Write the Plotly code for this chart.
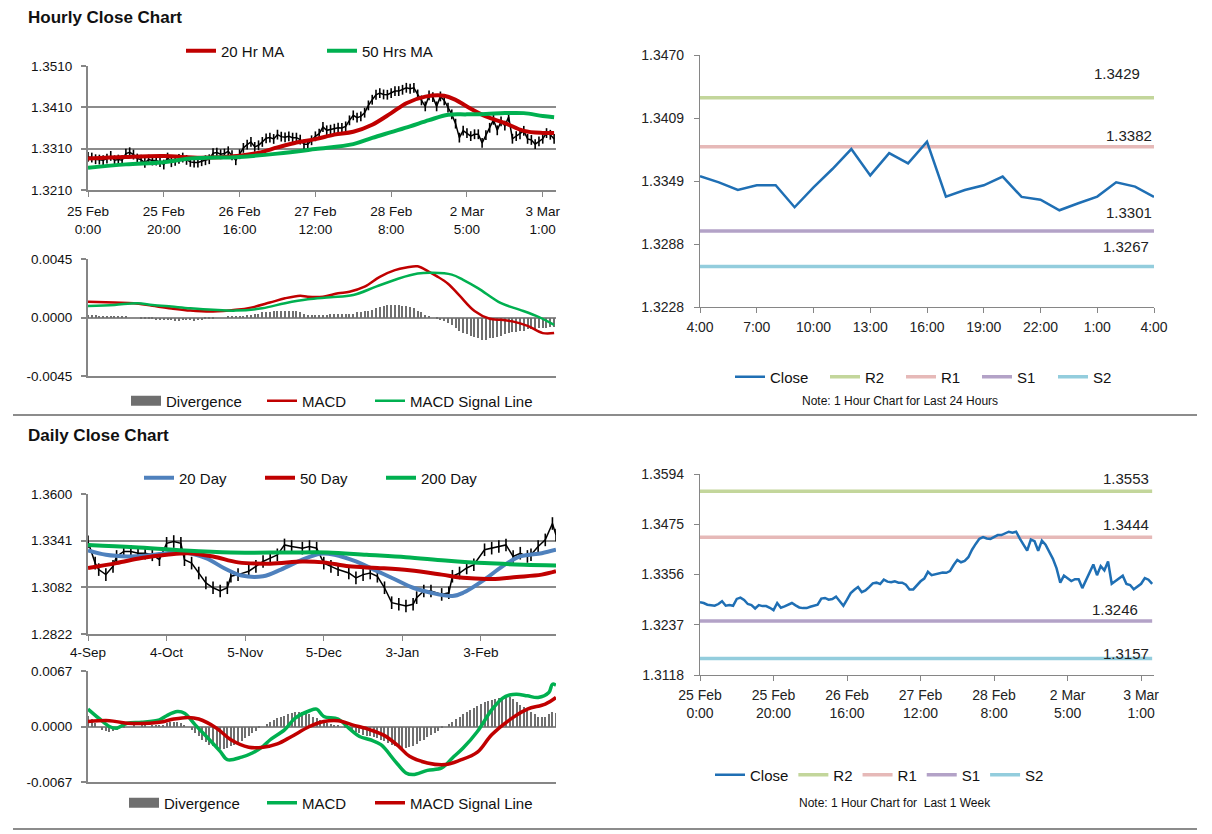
import plotly.graph_objects as go

FONT = "Liberation Sans, Arial, Helvetica, sans-serif"
W, H = 1212, 834
GRID = "#8c8c8c"
AXIS = "#868686"


def fx(p):
    return p / W


def fy(p):
    return 1 - p / H


# ---------------- data: hourly (last week) ----------------
hourly_close = [
    1.32901, 1.32885, 1.32845, 1.32836, 1.32820, 1.32861, 1.32925, 1.32820, 1.32836, 1.32820,
    1.32981, 1.33013, 1.32957, 1.32861, 1.32836, 1.32756, 1.32836, 1.32812, 1.32812, 1.32772,
    1.32716, 1.32885, 1.32772, 1.32804, 1.32853, 1.32885, 1.32828, 1.32780, 1.32764, 1.32764,
    1.32796, 1.32820, 1.32845, 1.32989, 1.33005, 1.32965, 1.32981, 1.33037, 1.32941, 1.32820,
    1.32965, 1.33118, 1.33198, 1.33263, 1.33142, 1.33182, 1.33263, 1.33351, 1.33367, 1.33335,
    1.33439, 1.33391, 1.33375, 1.33399, 1.33367, 1.33367, 1.33319, 1.33206, 1.33206, 1.33303,
    1.33399, 1.33464, 1.33624, 1.33544, 1.33560, 1.33584, 1.33608, 1.33600, 1.33640, 1.33785,
    1.33906, 1.33850, 1.33882, 1.33970, 1.34147, 1.34284, 1.34404, 1.34444, 1.34412, 1.34404,
    1.34444, 1.34493, 1.34493, 1.34525, 1.34573, 1.34549, 1.34573, 1.34412, 1.34268, 1.34123,
    1.34388, 1.34348, 1.34123, 1.34364, 1.34268, 1.34091, 1.33930, 1.33705, 1.33367,
    1.33535, 1.33477, 1.33404, 1.33449, 1.33449, 1.33238, 1.33429, 1.33605, 1.33797, 1.33544,
    1.33758, 1.33659, 1.33867, 1.33340, 1.33404, 1.33449, 1.33532, 1.33337, 1.33311, 1.33209,
    1.33276, 1.33340, 1.33477, 1.33436, 1.33337,
]
hour_index = list(range(len(hourly_close)))
hour_tick_pos = [0, 20, 40, 60, 80, 100, 120]
hour_tick_text = ["25 Feb<br>0:00", "25 Feb<br>20:00", "26 Feb<br>16:00", "27 Feb<br>12:00",
                  "28 Feb<br>8:00", "2 Mar<br>5:00", "3 Mar<br>1:00"]

ma20_x = [0, 10, 20, 30, 40, 45, 50, 55, 60, 65, 70, 75, 80, 84, 89, 94, 97, 100, 105, 110, 115, 120, 123]
ma20_y = [1.3286, 1.3290, 1.3292, 1.3288, 1.3293, 1.3300, 1.3313, 1.3325, 1.3333, 1.3344, 1.3351,
          1.3368, 1.3396, 1.3420, 1.3436, 1.3438, 1.3428, 1.3412, 1.3388, 1.3372, 1.3353, 1.3348, 1.3348]
ma50_x = [0, 10, 20, 27, 40, 50, 60, 70, 75, 80, 85, 90, 95, 100, 105, 110, 115, 120, 123]
ma50_y = [1.3264, 1.3272, 1.3277, 1.3286, 1.3290, 1.3298, 1.3309, 1.3321, 1.3336, 1.3350, 1.3364,
          1.3379, 1.3392, 1.3393, 1.3394, 1.3396, 1.3396, 1.3389, 1.3386]

hmacd_x = [0, 7, 12, 17, 22, 27, 33, 39, 43, 48, 52, 56, 58, 62, 66, 69, 73, 77, 81, 84, 87, 90,
           92, 95, 98, 102, 106, 109, 112, 116, 120, 123]
hmacd_y = [0.00122, 0.00115, 0.00110, 0.00090, 0.00070, 0.00053, 0.00046, 0.00059, 0.00076, 0.00115,
           0.00148, 0.00168, 0.00160, 0.00160, 0.00186, 0.00198, 0.00237, 0.00313, 0.00364, 0.00384,
           0.00394, 0.00351, 0.00318, 0.00260, 0.00170, 0.00050, -0.00010, -0.00018, -0.00030,
           -0.00064, -0.00120, -0.00120]
hsig_x = [0, 7, 13, 17, 22, 27, 33, 39, 46, 52, 58, 64, 70, 76, 82, 87, 91, 96, 99, 103, 109, 114, 119, 123]
hsig_y = [0.00089, 0.00097, 0.00110, 0.00097, 0.00084, 0.00071, 0.00059, 0.00053, 0.00071, 0.00110,
          0.00140, 0.00155, 0.00173, 0.00237, 0.00300, 0.00338, 0.00344, 0.00330, 0.00290, 0.00224,
          0.00110, 0.00059, 0.00003, -0.00056]
hourly_div = [
    0.0002, 0.0002, 0.0002, 0.0001, 0.0001, 0.0001, 0.0001, 0.0001, 0.0001, 0.0001, 0.0001,
    0.0000, 0.0000, 0.0000, -0.0001, -0.0001, -0.0001,
    -0.0001, -0.0002, -0.0002, -0.0002, -0.0002, -0.0002, -0.0003, -0.0003, -0.0002, -0.0002,
    -0.0002, -0.0003, -0.0002, -0.0002, -0.0001, -0.0001, -0.0001,
    0.0000, 0.0000, 0.0000, 0.0001, 0.0001, 0.0001, 0.0001, 0.0001, 0.0002,
    0.0002, 0.0003, 0.0003, 0.0004, 0.0004, 0.0004, 0.0005, 0.0005, 0.0005, 0.0005, 0.0005, 0.0005,
    0.0005, 0.0004, 0.0003,
    0.0002, 0.0002, 0.0002, 0.0002, 0.0002, 0.0002, 0.0003, 0.0003, 0.0003, 0.0003, 0.0003, 0.0003, 0.0003,
    0.0004, 0.0004, 0.0005, 0.0005, 0.0006, 0.0007, 0.0008, 0.0009,
    0.0010, 0.0010, 0.0010, 0.0010, 0.0009, 0.0009, 0.0008, 0.0007,
    0.0005, 0.0004, 0.0002, 0.0001, 0.0000,
    -0.0001, -0.0002, -0.0003, -0.0004, -0.0006, -0.0008, -0.0010, -0.0012, -0.0013, -0.0014,
    -0.0015, -0.0016, -0.0017, -0.0017, -0.0016,
    -0.0016, -0.0015, -0.0014, -0.0013, -0.0012, -0.0011, -0.0011, -0.0010, -0.0010, -0.0009,
    -0.0009, -0.0009, -0.0008, -0.0008, -0.0008, -0.0007, -0.0007,
]

# last 24 hours and pivot levels
last24_close = hourly_close[-25:]
last24_index = list(range(len(last24_close)))
last24_tick_pos = [0, 3, 6, 9, 12, 15, 18, 21, 24]
last24_tick_text = ["4:00", "7:00", "10:00", "13:00", "16:00", "19:00", "22:00", "1:00", "4:00"]
level_names = ["R2", "R1", "S1", "S2"]
day_levels = [1.3429, 1.3382, 1.3301, 1.3267]
week_levels = [1.3553, 1.3444, 1.3246, 1.3157]
day_ticks = [1.3228, 1.3288, 1.3349, 1.3409, 1.3470]
week_ticks = [1.3118, 1.3237, 1.3356, 1.3475, 1.3594]

# ---------------- data: daily ----------------
daily_x = [0, 2, 3, 5, 7, 8, 10, 12, 14, 16, 18, 20, 22, 24, 26, 27, 29, 31, 33, 35, 37, 39, 40, 42,
           45, 47, 49, 51, 53, 55, 57, 60, 62, 64, 66, 68, 70, 73, 75, 77, 79, 81, 83, 85, 87, 89,
           91, 92, 94, 96, 99, 101, 102, 104, 106, 108, 111, 113, 115, 117, 119, 121, 123, 124,
           126, 128, 130, 131]
daily_close = [1.3335, 1.3216, 1.3180, 1.3152, 1.3198, 1.3253, 1.3281, 1.3281, 1.3271, 1.3271,
               1.3262, 1.3235, 1.3326, 1.3336, 1.3326, 1.3235, 1.3216, 1.3161, 1.3106, 1.3079,
               1.3061, 1.3079, 1.3143, 1.3152, 1.3171, 1.3198, 1.3225, 1.3244, 1.3262, 1.3317,
               1.3308, 1.3299, 1.3308, 1.3299, 1.3216, 1.3198, 1.3180, 1.3161, 1.3134, 1.3152,
               1.3161, 1.3143, 1.3079, 1.2996, 1.2987, 1.2978, 1.2987, 1.3024, 1.3061, 1.3061,
               1.3042, 1.3051, 1.3143, 1.3161, 1.3189, 1.3207, 1.3290, 1.3299, 1.3308, 1.3317,
               1.3253, 1.3271, 1.3253, 1.3262, 1.3308, 1.3345, 1.3436, 1.3372]
daily_tick_pos = [0, 22, 44, 66, 88, 110]
daily_tick_text = ["4-Sep", "4-Oct", "5-Nov", "5-Dec", "3-Jan", "3-Feb"]
daily_ticks = [1.2822, 1.3082, 1.3341, 1.3600]

d20_x = [0, 5, 11, 16, 22, 27, 33, 38, 43, 49, 54, 60, 65, 69, 75, 80, 86, 91, 96, 102, 105, 111,
         116, 121, 127, 131]
d20_y = [1.3286, 1.3262, 1.3253, 1.3257, 1.3271, 1.3275, 1.3244, 1.3189, 1.3147, 1.3143, 1.3180,
         1.3235, 1.3268, 1.3262, 1.3225, 1.3180, 1.3125, 1.3079, 1.3051, 1.3033, 1.3051, 1.3125,
         1.3198, 1.3253, 1.3271, 1.3290]
d50_x = [0, 8, 15, 22, 28, 35, 42, 51, 60, 66, 73, 81, 90, 99, 105, 113, 120, 127, 131]
d50_y = [1.3189, 1.3216, 1.3244, 1.3262, 1.3271, 1.3253, 1.3220, 1.3213, 1.3225, 1.3220, 1.3198,
         1.3189, 1.3176, 1.3152, 1.3134, 1.3128, 1.3139, 1.3152, 1.3171]
d200_x = [0, 13, 27, 40, 56, 67, 78, 89, 100, 111, 122, 131]
d200_y = [1.3317, 1.3304, 1.3286, 1.3275, 1.3275, 1.3275, 1.3262, 1.3249, 1.3231, 1.3216, 1.3207, 1.3203]

dmacd_x = [0, 3, 6, 8, 11, 15, 20, 22, 25, 27, 30, 34, 37, 39, 43, 46, 49, 51, 55, 58, 62, 64, 66,
           70, 73, 76, 79, 82, 86, 89, 91, 95, 99, 102, 105, 109, 113, 116, 118, 120, 123, 126,
           129, 130, 131]
dmacd_y = [0.0021, 0.0010, 0.0000, -0.0002, 0.0004, 0.0005, 0.0008, 0.0013, 0.0018, 0.0016, 0.0002,
           -0.0016, -0.0030, -0.0040, -0.0037, -0.0032, -0.0024, -0.0016, -0.0004, 0.0010, 0.0019,
           0.0021, 0.0012, 0.0009, -0.0002, -0.0012, -0.0016, -0.0022, -0.0042, -0.0056, -0.0058,
           -0.0053, -0.0050, -0.0038, -0.0026, -0.0006, 0.0020, 0.0034, 0.0038, 0.0039, 0.0037,
           0.0035, 0.0041, 0.0051, 0.0050]
dsig_x = [0, 6, 11, 20, 24, 28, 31, 36, 40, 45, 49, 53, 57, 62, 66, 70, 74, 79, 83, 87, 90, 95,
          100, 104, 109, 113, 119, 123, 128, 131]
dsig_y = [0.0006, 0.0007, 0.0004, 0.0005, 0.0009, 0.0011, 0.0009, -0.0002, -0.0016, -0.0025,
          -0.0025, -0.0021, -0.0012, 0.0000, 0.0006, 0.0007, 0.0002, -0.0004, -0.0011, -0.0024,
          -0.0036, -0.0044, -0.0046, -0.0041, -0.0031, -0.0010, 0.0011, 0.0021, 0.0027, 0.0035]
daily_div = [
    0.0013, 0.0009, 0.0004, 0.0000, -0.0004, -0.0006, -0.0007, -0.0006, -0.0004, -0.0002,
    -0.0001, 0.0000, 0.0000, 0.0001, 0.0000, 0.0001, 0.0001, 0.0000, 0.0001, 0.0001,
    0.0002, 0.0002, 0.0004, 0.0006, 0.0006, 0.0005, 0.0004, 0.0002, 0.0000, -0.0004,
    -0.0008, -0.0012, -0.0016, -0.0019, -0.0022, -0.0024, -0.0026, -0.0027, -0.0027, -0.0026,
    -0.0024, -0.0022, -0.0020, -0.0017, -0.0014, -0.0011, -0.0008, -0.0005, -0.0002, 0.0000,
    0.0003, 0.0005, 0.0008, 0.0010, 0.0012, 0.0013, 0.0015, 0.0016, 0.0017, 0.0018,
    0.0017, 0.0016, 0.0015, 0.0012, 0.0010, 0.0008, 0.0006, 0.0004, 0.0003, 0.0002,
    0.0001, 0.0000, -0.0002, -0.0003, -0.0005, -0.0007, -0.0008, -0.0010, -0.0011, -0.0012,
    -0.0013, -0.0014, -0.0016, -0.0018, -0.0020, -0.0022, -0.0024, -0.0025, -0.0026, -0.0026,
    -0.0025, -0.0023, -0.0021, -0.0018, -0.0016, -0.0013, -0.0010, -0.0008, -0.0005, -0.0002,
    0.0000, 0.0003, 0.0006, 0.0009, 0.0012, 0.0015, 0.0018, 0.0020, 0.0022, 0.0025,
    0.0027, 0.0029, 0.0031, 0.0032, 0.0033, 0.0034, 0.0035, 0.0036, 0.0036, 0.0033,
    0.0029, 0.0026, 0.0023, 0.0020, 0.0017, 0.0015, 0.0012, 0.0011, 0.0012, 0.0015,
    0.0017, 0.0016,
]
daily_index = list(range(len(daily_div)))

# ---------------- styles ----------------
RED = "#C00000"
GREEN = "#00B050"
BLUE20 = "#4F81BD"
CLOSE_BLUE = "#1F6FB4"
LEVEL_COLORS = {"R2": "#C3D69B", "R1": "#E6B9B8", "S1": "#B3A2C7", "S2": "#93CDDD"}
DIV_GRAY = "#6f6f6f"

fig = go.Figure()

# ---- top-left: hourly price + MAs
fig.add_trace(go.Scatter(x=hour_index, y=hourly_close, mode="lines+markers", xaxis="x", yaxis="y",
                         line=dict(color="black", width=1.5),
                         marker=dict(symbol="line-ns-open", size=7, line=dict(color="black", width=1.6)),
                         showlegend=False, name="Hourly"))
fig.add_trace(go.Scatter(x=ma20_x, y=ma20_y, mode="lines", name="20 Hr MA", xaxis="x", yaxis="y",
                         line=dict(color=RED, width=4, shape="spline"), legend="legend"))
fig.add_trace(go.Scatter(x=ma50_x, y=ma50_y, mode="lines", name="50 Hrs MA", xaxis="x", yaxis="y",
                         line=dict(color=GREEN, width=4, shape="spline"), legend="legend"))

# ---- top MACD
fig.add_trace(go.Bar(x=hour_index, y=hourly_div, name="Divergence", xaxis="x2", yaxis="y2",
                     marker=dict(color=DIV_GRAY, line=dict(width=0)), width=0.3, showlegend=False))
fig.add_trace(go.Scatter(x=[None], y=[None], mode="lines", name="Divergence", xaxis="x2", yaxis="y2",
                         line=dict(color=DIV_GRAY, width=10), legend="legend2"))
fig.add_trace(go.Scatter(x=hmacd_x, y=hmacd_y, mode="lines", name="MACD", xaxis="x2", yaxis="y2",
                         line=dict(color=RED, width=2.5, shape="spline"), legend="legend3"))
fig.add_trace(go.Scatter(x=hsig_x, y=hsig_y, mode="lines", name="MACD Signal Line", xaxis="x2", yaxis="y2",
                         line=dict(color=GREEN, width=2.5, shape="spline"), legend="legend4"))

# ---- top-right: last 24 hours
for i, (nm, lv) in enumerate(zip(level_names, day_levels)):
    fig.add_trace(go.Scatter(x=last24_index, y=[lv] * len(last24_index), mode="lines", name=nm,
                             xaxis="x3", yaxis="y3", line=dict(color=LEVEL_COLORS[nm], width=3.5),
                             legend="legend6", legendrank=i + 2))
fig.add_trace(go.Scatter(x=last24_index, y=last24_close, mode="lines", name="Close", xaxis="x3", yaxis="y3",
                         line=dict(color=CLOSE_BLUE, width=2.5), legend="legend5", legendrank=1))

# ---- bottom-left: daily price + MAs
fig.add_trace(go.Scatter(x=daily_x, y=daily_close, mode="lines+markers", xaxis="x4", yaxis="y4",
                         line=dict(color="black", width=1.5),
                         marker=dict(symbol="line-ns-open", size=9, line=dict(color="black", width=1.6)),
                         showlegend=False, name="Daily"))
fig.add_trace(go.Scatter(x=d20_x, y=d20_y, mode="lines", name="20 Day", xaxis="x4", yaxis="y4",
                         line=dict(color=BLUE20, width=4, shape="spline"), legend="legend7"))
fig.add_trace(go.Scatter(x=d50_x, y=d50_y, mode="lines", name="50 Day", xaxis="x4", yaxis="y4",
                         line=dict(color=RED, width=4, shape="spline"), legend="legend7"))
fig.add_trace(go.Scatter(x=d200_x, y=d200_y, mode="lines", name="200 Day", xaxis="x4", yaxis="y4",
                         line=dict(color=GREEN, width=4, shape="spline"), legend="legend7"))

# ---- bottom MACD
fig.add_trace(go.Bar(x=daily_index, y=daily_div, name="Divergence", xaxis="x5", yaxis="y5",
                     marker=dict(color=DIV_GRAY, line=dict(width=0)), width=0.3, showlegend=False))
fig.add_trace(go.Scatter(x=[None], y=[None], mode="lines", name="Divergence", xaxis="x5", yaxis="y5",
                         line=dict(color=DIV_GRAY, width=10), legend="legend8"))
fig.add_trace(go.Scatter(x=dmacd_x, y=dmacd_y, mode="lines", name="MACD", xaxis="x5", yaxis="y5",
                         line=dict(color=GREEN, width=3.5, shape="spline"), legend="legend9"))
fig.add_trace(go.Scatter(x=dsig_x, y=dsig_y, mode="lines", name="MACD Signal Line", xaxis="x5", yaxis="y5",
                         line=dict(color=RED, width=3.5, shape="spline"), legend="legend10"))

# ---- bottom-right: last week
for i, (nm, lv) in enumerate(zip(level_names, week_levels)):
    fig.add_trace(go.Scatter(x=hour_index, y=[lv] * len(hour_index), mode="lines", name=nm,
                             xaxis="x6", yaxis="y6", line=dict(color=LEVEL_COLORS[nm], width=3.5),
                             legend="legend11", legendrank=i + 2))
fig.add_trace(go.Scatter(x=hour_index, y=hourly_close, mode="lines", name="Close", xaxis="x6", yaxis="y6",
                         line=dict(color=CLOSE_BLUE, width=2.5), legend="legend11", legendrank=1))

# ---------------- axes ----------------
tick_font_l = dict(family=FONT, size=13.5, color="#111")
tick_font_r = dict(family=FONT, size=14, color="#222")


def left_y(anchor, domain, rng, tickvals, ticktext=None):
    d = dict(anchor=anchor, domain=domain, range=rng, tickvals=tickvals, showline=True, linecolor=AXIS,
             linewidth=2, ticks="outside", ticklen=5, tickcolor=AXIS, tickwidth=1.5, showgrid=True,
             gridcolor=GRID, gridwidth=2, zeroline=False, tickfont=tick_font_l, ticklabelstandoff=6)
    if ticktext is not None:
        d["ticktext"] = ticktext
    else:
        d["tickformat"] = ".4f"
    return d


def right_y(anchor, domain, rng, tickvals):
    return dict(anchor=anchor, domain=domain, range=rng, tickvals=tickvals, tickformat=".4f", showline=True,
                linecolor=AXIS, linewidth=1.2, ticks="outside", ticklen=5, tickcolor=AXIS,
                showgrid=False, zeroline=False, tickfont=tick_font_r, ticklabelstandoff=7)


LX = [fx(88), fx(556)]
RX = [fx(700), fx(1154)]

fig.update_layout(
    xaxis=dict(domain=LX, anchor="y", range=[0, 123.5], tickvals=hour_tick_pos, ticktext=hour_tick_text,
               showline=True, linecolor=AXIS, linewidth=2, ticks="outside", ticklen=5, tickcolor=AXIS,
               showgrid=False, zeroline=False, tickfont=tick_font_l, ticklabelstandoff=3),
    yaxis=left_y("x", [fy(190), fy(66)], [1.3210, 1.3510], [1.3210, 1.3310, 1.3410, 1.3510]),
    xaxis2=dict(domain=LX, anchor="y2", range=[0, 123.5], showline=True, linecolor=AXIS, linewidth=2,
                showticklabels=False, ticks="", showgrid=False, zeroline=False),
    yaxis2=left_y("x2", [fy(376), fy(259)], [-0.0045, 0.0045], [-0.0045, 0.0, 0.0045],
                  ["-0.0045", "0.0000", "0.0045"]),
    xaxis3=dict(domain=RX, anchor="y3", range=[0, 24], tickvals=last24_tick_pos, ticktext=last24_tick_text,
                showline=True, linecolor=AXIS, linewidth=1.2, ticks="outside", ticklen=5, tickcolor=AXIS,
                showgrid=False, zeroline=False, tickfont=tick_font_r, ticklabelstandoff=2),
    yaxis3=right_y("x3", [fy(307), fy(55)], [1.3228, 1.3470], day_ticks),
    xaxis4=dict(domain=LX, anchor="y4", range=[0, 131], tickvals=daily_tick_pos, ticktext=daily_tick_text,
                showline=True, linecolor=AXIS, linewidth=2, ticks="outside", ticklen=5, tickcolor=AXIS,
                showgrid=False, zeroline=False, tickfont=tick_font_l, ticklabelstandoff=0),
    yaxis4=left_y("x4", [fy(634), fy(494)], [1.2822, 1.3600], daily_ticks),
    xaxis5=dict(domain=LX, anchor="y5", range=[0, 131], showline=True, linecolor=AXIS, linewidth=2,
                showticklabels=False, ticks="", showgrid=False, zeroline=False),
    yaxis5=left_y("x5", [fy(782), fy(671)], [-0.0067, 0.0067], [-0.0067, 0.0, 0.0067],
                  ["-0.0067", "0.0000", "0.0067"]),
    xaxis6=dict(domain=RX, anchor="y6", range=[0, 123.5], tickvals=hour_tick_pos, ticktext=hour_tick_text,
                showline=True, linecolor=AXIS, linewidth=1.2, ticks="outside", ticklen=5, tickcolor=AXIS,
                showgrid=False, zeroline=False, tickfont=dict(family=FONT, size=14, color="#222"),
                ticklabelstandoff=2),
    yaxis6=right_y("x6", [fy(675), fy(474)], [1.3118, 1.3594], week_ticks),
)

LEG_OFF = 5  # legend symbol starts this far right of the legend's left edge


def legend_at(sym_left, cy, size=15, entry=None):
    d = dict(orientation="h", x=fx(sym_left - LEG_OFF), y=fy(cy), xanchor="left", yanchor="middle",
             font=dict(family=FONT, size=size, color="#111"), bgcolor="rgba(0,0,0,0)",
             itemwidth=30, borderwidth=0)
    if entry is not None:
        d["entrywidth"] = entry
        d["entrywidthmode"] = "pixels"
    return d


fig.update_layout(
    legend=legend_at(186, 51, entry=96),
    legend2=legend_at(131, 401),
    legend3=legend_at(267, 401),
    legend4=legend_at(375, 401),
    legend5=legend_at(735, 377),
    legend6=legend_at(830, 377, entry=31),
    legend7=legend_at(144, 478, entry=76),
    legend8=legend_at(129, 803),
    legend9=legend_at(267, 803),
    legend10=legend_at(375, 803),
    legend11=legend_at(715, 775),
)

# ---------------- annotations ----------------
ann = [
    dict(text="<b>Hourly Close Chart</b>", x=fx(26), y=fy(18), xref="paper", yref="paper",
         xanchor="left", yanchor="middle", showarrow=False, font=dict(family=FONT, size=17, color="#111")),
    dict(text="<b>Daily Close Chart</b>", x=fx(26), y=fy(435), xref="paper", yref="paper",
         xanchor="left", yanchor="middle", showarrow=False, font=dict(family=FONT, size=17, color="#111")),
    dict(text="Note: 1 Hour Chart for Last 24 Hours", x=fx(900), y=fy(401), xref="paper", yref="paper",
         xanchor="center", yanchor="middle", showarrow=False, font=dict(family=FONT, size=12, color="#111")),
    dict(text="Note: 1 Hour Chart for  Last 1 Week", x=fx(895), y=fy(803), xref="paper", yref="paper",
         xanchor="center", yanchor="middle", showarrow=False, font=dict(family=FONT, size=12, color="#111")),
]
day_shift = [14, 1, 8, 9]
day_xoff = [-12, 0, 0, -3]
for lv, ys, xo in zip(day_levels, day_shift, day_xoff):
    ann.append(dict(text=f"{lv:.4f}", x=last24_index[-1], y=lv, xref="x3", yref="y3", xanchor="right",
                    yanchor="bottom", yshift=ys, xshift=xo, showarrow=False,
                    font=dict(family=FONT, size=15, color="#222")))
week_shift = [2, 2, 1, -5]
week_xoff = [-3, -3, -14, -3]
for lv, ys, xo in zip(week_levels, week_shift, week_xoff):
    ann.append(dict(text=f"{lv:.4f}", x=123.5, y=lv, xref="x6", yref="y6", xanchor="right",
                    yanchor="bottom", yshift=ys, xshift=xo, showarrow=False,
                    font=dict(family=FONT, size=15, color="#222")))

shapes = [
    dict(type="line", xref="paper", yref="paper", x0=fx(13), x1=fx(1197), y0=fy(415), y1=fy(415),
         line=dict(color=GRID, width=2)),
    dict(type="line", xref="paper", yref="paper", x0=fx(13), x1=fx(1197), y0=fy(829), y1=fy(829),
         line=dict(color=GRID, width=2)),
]

fig.update_layout(
    width=W, height=H, margin=dict(l=0, r=0, t=0, b=0, autoexpand=False),
    paper_bgcolor="white", plot_bgcolor="white", annotations=ann, shapes=shapes,
    bargap=0, hovermode=False, font=dict(family=FONT, color="#111"),
)

fig.write_html("out.html", config={"displayModeBar": False},
               post_script="document.body.style.margin='0px';")
